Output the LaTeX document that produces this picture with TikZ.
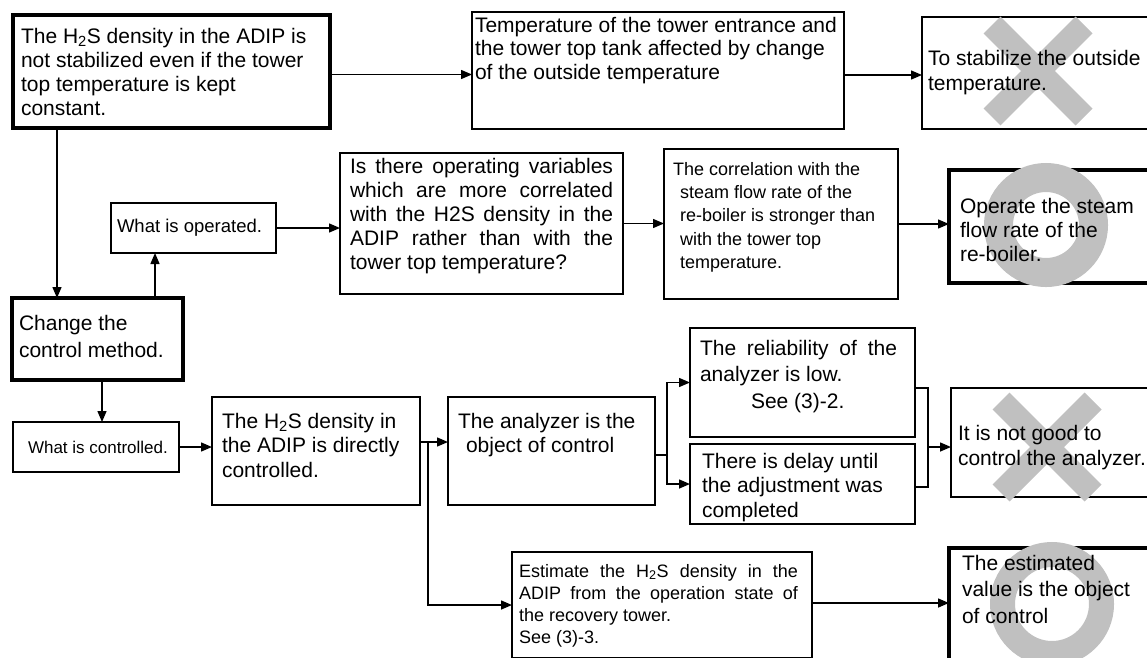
\documentclass[tikz,border=0pt]{standalone}
\usepackage{fontspec}
\setmainfont{Liberation Sans}
\usetikzlibrary{arrows.meta,calc}
\definecolor{markgray}{RGB}{192,192,192}
\pgfdeclarelayer{marks}
\pgfdeclarelayer{texts}
\pgfsetlayers{main,marks,texts}
\newcommand{\fs}[2]{\fontsize{#1}{#2}\selectfont}
\newcommand{\jl}[2]{\makebox[#1][s]{#2}}
\tikzset{
  box/.style={draw, line width=1.3pt, anchor=north west, inner sep=0pt, outer sep=0pt},
  thickbox/.style={box, line width=4.5pt},
  arr/.style={line width=1.4pt, -{Triangle[length=11pt,width=9pt]}},
  conn/.style={line width=1.4pt},
  txt/.style={anchor=base west, inner sep=0pt, outer sep=0pt},
  xmark/.style={draw=markgray, line width=24pt},
}
\begin{document}
\begin{tikzpicture}[x=1pt,y=-1pt]
\useasboundingbox (0,0) rectangle (1147,657);
\fill[white] (0,0) rectangle (1147,657);
% boxes
\node[thickbox, minimum width=317pt, minimum height=113pt] (A) at (13,15) {};
\node[box, minimum width=372pt, minimum height=117pt] (B) at (472,12) {};
\node[box, minimum width=240pt, minimum height=112pt] (C) at (922,17) {};
\node[box, minimum width=165pt, minimum height=50pt] (D) at (111,203) {};
\node[thickbox, minimum width=171pt, minimum height=82pt] (E) at (12,298) {};
\node[box, minimum width=283pt, minimum height=141pt] (F) at (340,153) {};
\node[box, minimum width=234pt, minimum height=150pt] (G) at (664,149) {};
\node[thickbox, minimum width=215pt, minimum height=113pt] (H) at (949,170) {};
\node[box, minimum width=166pt, minimum height=50pt] (W) at (13,422) {};
\node[box, minimum width=208pt, minimum height=108pt] (I) at (212,397) {};
\node[box, minimum width=207pt, minimum height=108pt] (K) at (448,397) {};
\node[box, minimum width=225pt, minimum height=109pt] (R) at (690,328) {};
\node[box, minimum width=225pt, minimum height=80pt] (Dl) at (690,444) {};
\node[box, minimum width=215pt, minimum height=109pt] (NG) at (951,388) {};
\node[box, minimum width=300pt, minimum height=106pt] (Est) at (512,552) {};
\node[thickbox, minimum width=215pt, minimum height=112pt] (EV) at (949,548) {};
% connectors
\draw[arr] ([yshift=-3pt]A.east) -- ([yshift=-3pt]A.east -| B.west);
\draw[arr] ([yshift=-4.5pt]B.east) -- ([yshift=-4.5pt]B.east -| C.west);
\draw[arr] ([xshift=44pt]A.south west) -- ([xshift=44pt]A.south west |- E.north);
\draw[arr] ([xshift=143pt]E.north west) -- ([xshift=143pt]E.north west |- D.south);
\draw[arr] (D.east) -- (D.east -| F.west);
\draw[arr] (F.east) -- (F.east -| G.west);
\draw[arr] (G.east) -- (G.east -| H.west);
\draw[arr] ([xshift=90pt]E.south west) -- ([xshift=90pt]E.south west |- W.north);
\draw[arr] (W.east) -- (W.east -| I.west);
\draw[arr] ([yshift=9pt]I.east) -- ([yshift=9pt]I.east -| K.west);
\coordinate (J) at ([xshift=8pt,yshift=9pt]I.east);
\draw[arr] (J) |- (Est.west);
\coordinate (K0) at ([yshift=-4pt]K.east);
\coordinate (K1) at ([xshift=12pt,yshift=-4pt]K.east);
\draw[conn] (K0) -- (K1);
\draw[arr] (K1) |- (R.west);
\draw[arr] (K1) |- (Dl.west);
\coordinate (R0) at ([yshift=-5.5pt]R.east);
\coordinate (D0) at ([yshift=-3pt]Dl.east);
\coordinate (N0) at ([yshift=-4.5pt]NG.west);
\coordinate (M) at ([xshift=13pt]R0);
\draw[conn] (R0) -- (M) -- (M |- D0) -- (D0);
\draw[arr] (M |- N0) -- (N0);
\draw[arr] ([yshift=2pt]Est.east) -- ([yshift=2pt]Est.east -| EV.west);
% marks
\begin{pgfonlayer}{marks}
\draw[xmark] (992,25) -- (1084,117) (992,117) -- (1084,25);
\draw[xmark] (1001,401) -- (1093,493) (1001,493) -- (1093,401);
\draw[draw=markgray, line width=29pt] (1046,225) circle[radius=47.5pt];
\draw[draw=markgray, line width=25pt] (1052,604) circle[radius=49.5pt];
\end{pgfonlayer}
% texts
\begin{pgfonlayer}{texts}
\node[txt] (tA) at (21,43) {\parbox[t]{400pt}{\fs{21}{24}The H\textsubscript{2}S density in the ADIP is\\ not stabilized even if the tower\\ top temperature is kept\\ constant.}};
\node[txt] (tB) at (475,32) {\parbox[t]{400pt}{\fs{21}{23.5}Temperature of the tower entrance and\\ the tower top tank affected by change\\ of the outside temperature}};
\node[txt] (tC) at (928,65) {\parbox[t]{400pt}{\fs{21}{25}To stabilize the outside\\ temperature.}};
\node[txt] (tD) at (117,232) {\fs{18.5}{22}What is operated.};
\node[txt] (tE) at (19,330) {\parbox[t]{400pt}{\fs{21}{27}Change the\\ control method.}};
\node[txt] (tF) at (350,173) {\parbox[t]{400pt}{\fs{21}{24}\jl{263pt}{Is there operating variables}\\ \jl{263pt}{which are more correlated}\\ \jl{263pt}{with the H2S density in the}\\ \jl{263pt}{ADIP rather than with the}\\ tower top temperature?}};
\node[txt] (tG) at (673,175) {\parbox[t]{400pt}{\fs{18}{23.4}The correlation with the\\ \hspace*{7pt}steam flow rate of the\\ \hspace*{7pt}re-boiler is stronger than\\ \hspace*{7pt}with the tower top\\ \hspace*{7pt}temperature.}};
\node[txt] (tH) at (960,213) {\parbox[t]{400pt}{\fs{21}{24}Operate the steam\\ flow rate of the\\ re-boiler.}};
\node[txt] (tW) at (28,453) {\fs{17}{20}What is controlled.};
\node[txt] (tI) at (222,428) {\parbox[t]{400pt}{\fs{21}{24.5}The H\textsubscript{2}S density in\\ the ADIP is directly\\ controlled.}};
\node[txt] (tK) at (458,428) {\parbox[t]{400pt}{\fs{21}{24.5}The analyzer is the\\ \hspace*{8pt}object of control}};
\node[txt] (tR) at (700,355) {\parbox[t]{400pt}{\fs{21}{26.5}\jl{197pt}{The reliability of the}\\ analyzer is low.\\ \hspace*{51pt}See (3)-2.}};
\node[txt] (tDl) at (702,468) {\parbox[t]{400pt}{\fs{21}{24.5}There is delay until\\ the adjustment was\\ completed}};
\node[txt] (tNG) at (958,440) {\parbox[t]{400pt}{\fs{21}{25}It is not good to\\ control the analyzer.}};
\node[txt] (tEst) at (519,577) {\parbox[t]{400pt}{\fs{18}{22}\jl{279pt}{Estimate the H\textsubscript{2}S density in the}\\ \jl{279pt}{ADIP from the operation state of}\\ the recovery tower.\\ See (3)-3.}};
\node[txt] (tEV) at (962,570) {\parbox[t]{400pt}{\fs{21}{26.5}The estimated\\ value is the object\\ of control}};
\end{pgfonlayer}
\end{tikzpicture}
\end{document}
